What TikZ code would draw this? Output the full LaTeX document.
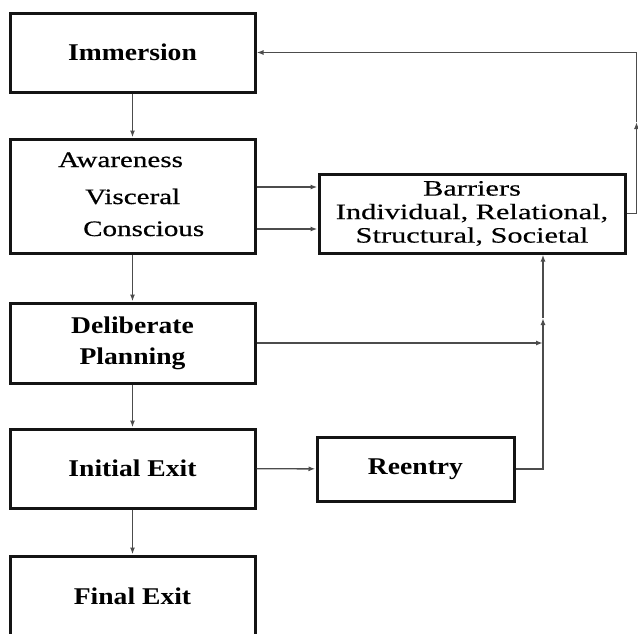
\documentclass[tikz,border=0pt]{standalone}
\usepackage{fontspec}
\setmainfont{Liberation Serif}
\newfontfamily\stageFont[FakeStretch=1.15]{Liberation Serif}
\newfontfamily\awareFont[FakeStretch=1.32,FakeBold=0.6]{Liberation Serif}
\newfontfamily\barrierFont[FakeStretch=1.38,FakeBold=0.3]{Liberation Serif}
\usetikzlibrary{positioning}
\usetikzlibrary{arrows.meta}
\definecolor{edgeColor}{rgb}{0.3,0.3,0.3}
\definecolor{boxColor}{rgb}{0.08,0.08,0.08}

\begin{document}
\begin{tikzpicture}[x=1pt,y=-1pt]

          \tikzstyle{stageNode} = [draw=boxColor, line width=3pt, inner sep=0pt, minimum width=245pt, align=center, font=\stageFont\bfseries\fontsize{24}{31}\selectfont];
          \tikzstyle{barrierNode} = [draw=boxColor, line width=3pt, inner sep=0pt, minimum width=306pt, minimum height=79pt, align=center, font=\barrierFont\fontsize{22}{23.5}\selectfont];
          \tikzstyle{awareText} = [anchor=base west, inner sep=0pt, font=\awareFont\fontsize{22}{26}\selectfont];

          \tikzstyle{flowEdge} = [line width=1.4pt, edgeColor, -{Latex[length=7pt,width=5pt]}];

          \useasboundingbox (0,0) rectangle (638,633);

          \node[stageNode, minimum height=79pt] (immersion) at (132.5,52.5) {Immersion};
          \node[stageNode, minimum height=114pt] (awareness) at (132.5,196) {};
          \node[awareText] (awLine) at (58,167) {Awareness};
          \node[awareText] (visLine) at (85,204) {Visceral};
          \node[awareText] (conLine) at (83,236) {Conscious};
          \node[stageNode, minimum height=80pt] (planning) at (132.5,343) {Deliberate\\Planning};
          \node[stageNode, minimum height=79pt] (initial) at (132.5,468.5) {Initial Exit};
          \node[stageNode, minimum height=80pt] (final) at (132.5,596) {Final Exit};
          \node[barrierNode] (barriers) at (472,213.5) {Barriers\\Individual, Relational,\\Structural, Societal};
          \node[stageNode, minimum width=197pt, minimum height=64pt] (reentry) at (415.5,469) {Reentry};

          \coordinate (joinTop) at ([xshift=71pt]barriers.south);
          \coordinate (upMark) at (543,318);
          \coordinate (loopMark) at (636.5,122);

          \draw[flowEdge] (immersion) -- (awareness);
          \draw[flowEdge] (awareness) -- (planning);
          \draw[flowEdge] (planning) -- (initial);
          \draw[flowEdge] (initial) -- (final);
          \draw[flowEdge] ([yshift=9pt]awareness.east) -- ([yshift=9pt]awareness.east -| barriers.west);
          \draw[flowEdge] ([yshift=-33pt]awareness.east) -- ([yshift=-33pt]awareness.east -| barriers.west);
          \draw[flowEdge] (planning.east) -- (planning.east -| joinTop);
          \draw[flowEdge] (initial) -- (reentry);
          \draw[flowEdge] (reentry.east) -| (upMark);
          \draw[flowEdge] (upMark) -- (joinTop);
          \draw[flowEdge] (barriers.east) -| (loopMark);
          \draw[flowEdge] (loopMark) |- (immersion.east);
        \end{tikzpicture}
\end{document}
